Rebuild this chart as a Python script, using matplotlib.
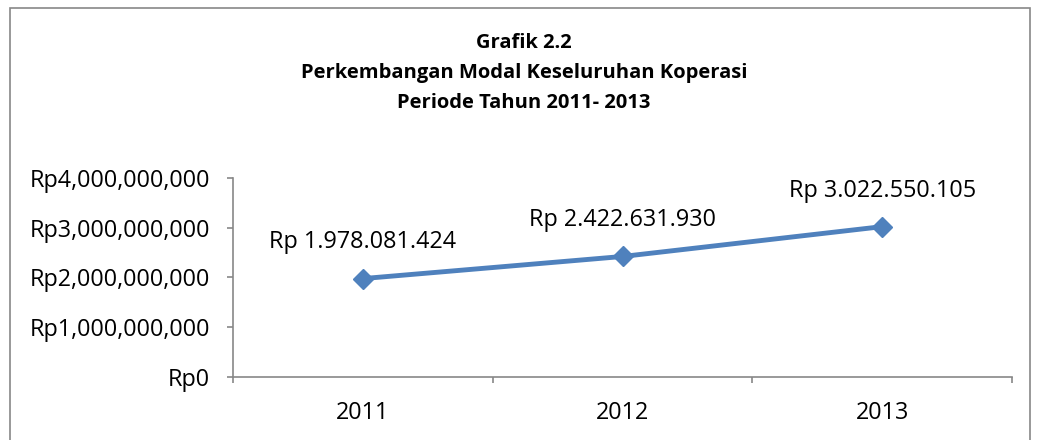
import matplotlib
matplotlib.use("Agg")
import matplotlib.pyplot as plt
from matplotlib.patches import Rectangle
from matplotlib.ticker import FuncFormatter

years = ["2011", "2012", "2013"]
modal = [1978081424, 2422631930, 3022550105]
labels = ["Rp 1.978.081.424", "Rp 2.422.631.930", "Rp 3.022.550.105"]
yticks = [0, 1e9, 2e9, 3e9, 4e9]

plt.rcParams['font.family'] = ['Open Sans', 'DejaVu Sans']

fig = plt.figure(figsize=(10.38, 4.4), dpi=100)
fig.patches.append(Rectangle((10/1038, -0.1), (1030-10)/1038, 1.1 - 8/440,
                             transform=fig.transFigure, fill=False,
                             edgecolor='#878787', linewidth=1.2))
ax = fig.add_axes([233/1038, 1-377/440, (1012-233)/1038, (377-178)/440])

x = list(range(len(years)))
ax.plot(x, modal, color='#4F81BD', linewidth=3.5, marker='D', markersize=10,
        markeredgecolor='#4F81BD', markerfacecolor='#4F81BD', zorder=3, clip_on=False)
for xi, yi, lb in zip(x, modal, labels):
    ax.annotate(lb, (xi, yi), xytext=(0, 26), textcoords='offset points',
                ha='center', va='center', fontsize=16.8, color='black')

ax.set_xlim(-0.5, 2.5)
ax.set_ylim(0, 4e9)
ax.set_yticks(yticks)
ax.yaxis.set_major_formatter(FuncFormatter(lambda v, p: "Rp{:,.0f}".format(v)))
ax.set_xticks([-0.5, 0.5, 1.5, 2.5])
ax.set_xticklabels([])
ax.set_xticks(x, minor=True)
ax.set_xticklabels(years, minor=True)
ax.tick_params(axis='x', which='minor', length=0, labelsize=16.8, pad=17)
ax.tick_params(axis='x', which='major', length=4.3, width=1.2, color='#878787', direction='out')
ax.tick_params(axis='y', length=4.3, width=1.2, color='#878787', labelsize=16.8, pad=12)
for s in ['top', 'right']:
    ax.spines[s].set_visible(False)
for s in ['left', 'bottom']:
    ax.spines[s].set_color('#878787')
    ax.spines[s].set_linewidth(1.2)

fig.text(524/1038, 1-43/440, "Grafik 2.2", ha='center', va='center', fontsize=14.5, fontweight='bold')
fig.text(524/1038, 1-73/440, "Perkembangan Modal Keseluruhan Koperasi", ha='center', va='center', fontsize=14.5, fontweight='bold')
fig.text(524/1038, 1-103/440, "Periode Tahun 2011- 2013", ha='center', va='center', fontsize=14.5, fontweight='bold')

fig.savefig("out.png", dpi=100)
